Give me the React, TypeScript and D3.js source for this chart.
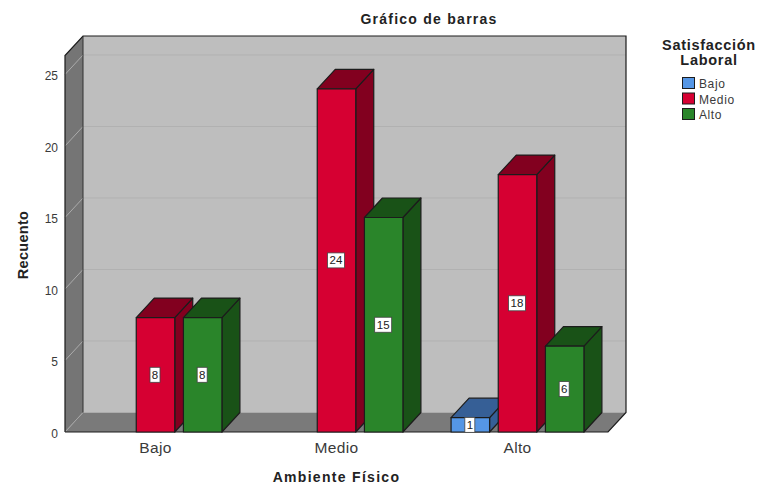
import React from "react";
import * as d3 from "d3";

const categories = ["Bajo", "Medio", "Alto"];
const seriesNames = ["Bajo", "Medio", "Alto"];
const bajoValues = [0, 0, 1];
const medioValues = [8, 24, 18];
const altoValues = [8, 15, 6];
const yTicks = [0, 5, 10, 15, 20, 25];
const front = ["#5596E5", "#D60032", "#2A852A"];
const dark = ["#365F96", "#82001F", "#195217"];
const FONT = "'Liberation Sans', Arial, sans-serif";
const TEXT = "#3a3a3a";
const LINE = "#1c1c1c";

export default function App() {
  const x = d3.scaleBand().domain(categories).range([65, 608]);
  const y = d3.scaleLinear().domain([0, 25]).range([432, 74.5]);
  const dx = 18, dy = -19.5;
  const topY = 55.5;
  const x0 = 65, x1 = 608, y0 = y(0);
  const series = [bajoValues, medioValues, altoValues];
  const sub = d3.scaleBand().domain(seriesNames.map((_, i) => String(i))).range([0, 141.5]);
  const bw = 38.5;
  const groupOffset = x.bandwidth() / 2 - 141.5 / 2;
  const bars: any[] = [];
  categories.forEach((c, ci) => {
    series.forEach((vals, si) => {
      const v = vals[ci];
      if (!v) return;
      const bx = (x(c) as number) + groupOffset + (sub(String(si)) as number) + (sub.bandwidth() - bw) / 2;
      bars.push({ key: `${ci}-${si}`, si, v, bx, by: y(v) });
    });
  });
  const pts = (p: number[][]) => p.map((q) => q.join(",")).join(" ");
  return (
    <svg width={760} height={484} style={{ position: "absolute", left: 0, top: 0, background: "#fff" }} fontFamily={FONT}>
      <text x={429} y={24} textAnchor="middle" fontSize={14} fontWeight="bold" fill="#222" letterSpacing={1.25}>Gráfico de barras</text>

      <rect x={x0 + dx} y={topY + dy} width={x1 - x0} height={y0 - topY} fill="#BEBEBE" />
      <polygon points={pts([[x0, topY], [x0 + dx, topY + dy], [x0 + dx, y0 + dy], [x0, y0]])} fill="#757575" />
      <polygon points={pts([[x0, y0], [x0 + dx, y0 + dy], [x1 + dx, y0 + dy], [x1, y0]])} fill="#7A7A7A" />

      {yTicks.filter((t) => t > 0).map((t) => (
        <g key={t}>
          <line x1={x0} x2={x0 + dx} y1={y(t)} y2={y(t) + dy} stroke="#ABABAB" strokeWidth={1} />
          <line x1={x0 + dx} x2={x1 + dx} y1={y(t) + dy} y2={y(t) + dy} stroke="#B1B1B1" strokeWidth={1} />
        </g>
      ))}
      <line x1={x0} x2={x0 + dx} y1={y0} y2={y0 + dy} stroke="#A6A6A6" strokeWidth={1} />

      <polyline points={pts([[x0, y0], [x0, topY], [x0 + dx, topY + dy], [x1 + dx, topY + dy], [x1 + dx, y0 + dy], [x1, y0], [x0, y0]])} fill="none" stroke={LINE} strokeWidth={1.2} />
      <line x1={x0 + dx} x2={x0 + dx} y1={topY + dy} y2={y0 + dy} stroke="#333" strokeWidth={1} />

      {yTicks.map((t) => (
        <text key={t} x={58} y={y(t) + 5.5} textAnchor="end" fontSize={12} fill={TEXT}>{t}</text>
      ))}
      {categories.map((c) => (
        <text key={c} x={(x(c) as number) + x.bandwidth() / 2} y={453} textAnchor="middle" fontSize={15.5} fill={TEXT} letterSpacing={0.35}>{c}</text>
      ))}

      {bars.map((b) => (
        <g key={b.key} stroke={LINE} strokeWidth={1.2} strokeLinejoin="round">
          <polygon points={pts([[b.bx + bw, b.by], [b.bx + bw + dx, b.by + dy], [b.bx + bw + dx, y0 + dy], [b.bx + bw, y0]])} fill={dark[b.si]} />
          <polygon points={pts([[b.bx, b.by], [b.bx + dx, b.by + dy], [b.bx + bw + dx, b.by + dy], [b.bx + bw, b.by]])} fill={dark[b.si]} />
          <rect x={b.bx} y={b.by} width={bw} height={y0 - b.by} fill={front[b.si]} />
        </g>
      ))}
      {bars.map((b) => {
        const cy = (b.by + y0) / 2;
        const cx = b.bx + bw / 2 - 0.5;
        const w = b.v >= 10 ? 17 : 10;
        return (
          <g key={b.key + "l"}>
            <rect x={cx - w / 2} y={cy - 7.5} width={w} height={15} fill="#fff" stroke="#444" strokeWidth={0.8} />
            <text x={cx} y={cy + 4} textAnchor="middle" fontSize={11.5} fill="#222">{b.v}</text>
          </g>
        );
      })}

      <text transform="translate(28,245) rotate(-90)" textAnchor="middle" fontSize={14.5} fontWeight="bold" fill="#222" letterSpacing={0.3}>Recuento</text>
      <text x={336.5} y={482} textAnchor="middle" fontSize={14} fontWeight="bold" fill="#222" letterSpacing={1.3}>Ambiente Físico</text>

      <text x={709} y={50} textAnchor="middle" fontSize={14.5} fontWeight="bold" fill="#222" letterSpacing={0.7}>Satisfacción</text>
      <text x={709} y={65} textAnchor="middle" fontSize={14.5} fontWeight="bold" fill="#222" letterSpacing={0.7}>Laboral</text>
      {seriesNames.map((s, i) => (
        <g key={s}>
          <rect x={682.5} y={77.5 + i * 15.5} width={12} height={11} fill={front[i]} stroke={LINE} strokeWidth={1} />
          <text x={699} y={88 + i * 15.5} fontSize={12} fill={TEXT} letterSpacing={0.6}>{s}</text>
        </g>
      ))}
    </svg>
  );
}
